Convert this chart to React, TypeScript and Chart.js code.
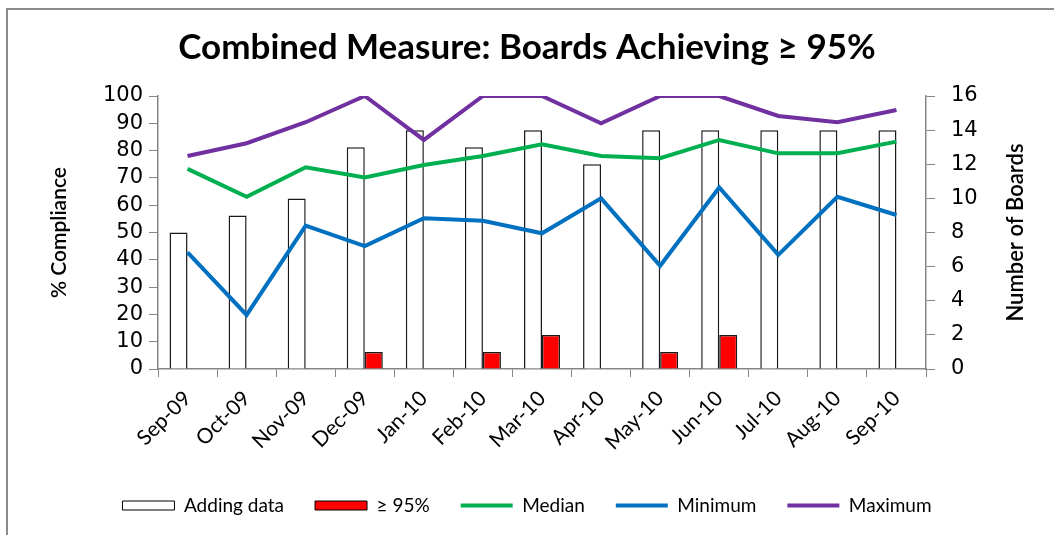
import React, { useEffect, useRef } from "react";
import { Chart, registerables } from "chart.js";

Chart.register(...registerables);

const months = ["Sep-09", "Oct-09", "Nov-09", "Dec-09", "Jan-10", "Feb-10", "Mar-10", "Apr-10", "May-10", "Jun-10", "Jul-10", "Aug-10", "Sep-10"];
const addingData = [8, 9, 10, 13, 14, 13, 14, 12, 14, 14, 14, 14, 14];
const achieving95 = [null, null, null, 1, null, 1, 2, null, 1, 2, null, null, null];
const median = [73.3, 63.1, 73.9, 70.2, 74.7, 78, 82.3, 78, 77.2, 83.9, 79, 79, 83.3];
const minimum = [42.7, 19.8, 52.5, 45, 55.2, 54.3, 49.7, 62.5, 37.8, 66.5, 41.8, 63.1, 56.4];
const maximum = [78, 82.7, 90.4, 100, 83.9, 100, 100, 90, 100, 100, 92.7, 90.4, 94.9];
const leftTicks = [0, 10, 20, 30, 40, 50, 60, 70, 80, 90, 100];
const rightTicks = [0, 2, 4, 6, 8, 10, 12, 14, 16];

const TITLE = "Combined Measure: Boards Achieving \u2265 95%";
const GREY = "#868686";

export default function App() {
  const ref = useRef<HTMLCanvasElement | null>(null);

  useEffect(() => {
    if (!ref.current) return;
    const frame = {
      id: "frame",
      beforeDraw(chart: any) {
        const ctx = chart.ctx;
        ctx.save();
        ctx.strokeStyle = "#8c8c8c";
        ctx.lineWidth = 2;
        ctx.beginPath();
        ctx.moveTo(7, 535);
        ctx.lineTo(7, 9);
        ctx.lineTo(1054, 9);
        ctx.stroke();
        ctx.restore();
      },
      afterDraw(chart: any) {
        const ctx = chart.ctx;
        const a = chart.chartArea;
        ctx.save();
        ctx.translate(1016, (a.top + a.bottom) / 2);
        ctx.rotate(-Math.PI / 2);
        ctx.font = "600 22px Lato";
        ctx.fillStyle = "#000";
        ctx.textAlign = "center";
        ctx.textBaseline = "middle";
        ctx.fillText("Number of Boards", 0, 0);
        ctx.restore();
      },
    };

    const chart = new Chart(ref.current, {
      type: "bar",
      data: {
        labels: months,
        datasets: [
          {
            type: "bar",
            label: "Adding data",
            data: addingData,
            yAxisID: "y1",
            backgroundColor: "#ffffff",
            borderColor: "#1a1a1a",
            borderWidth: 1.5,
            categoryPercentage: 0.61,
            barPercentage: 1.0,
            order: 2,
          },
          {
            type: "bar",
            label: "\u2265 95%",
            data: achieving95,
            yAxisID: "y1",
            backgroundColor: "#ff0000",
            borderColor: "#1a1a1a",
            borderWidth: 1.5,
            categoryPercentage: 0.61,
            barPercentage: 1.0,
            order: 2,
          },
          {
            type: "line",
            label: "Median",
            data: median,
            yAxisID: "y",
            borderColor: "#00b050",
            backgroundColor: "#00b050",
            borderWidth: 4,
            pointRadius: 0,
            tension: 0,
            order: 1,
          },
          {
            type: "line",
            label: "Minimum",
            data: minimum,
            yAxisID: "y",
            borderColor: "#0070c0",
            backgroundColor: "#0070c0",
            borderWidth: 4,
            pointRadius: 0,
            tension: 0,
            order: 1,
          },
          {
            type: "line",
            label: "Maximum",
            data: maximum,
            yAxisID: "y",
            borderColor: "#7030a0",
            backgroundColor: "#7030a0",
            borderWidth: 4,
            pointRadius: 0,
            tension: 0,
            order: 0,
          },
        ] as any,
      },
      options: {
        responsive: false,
        animation: false,
        layout: { padding: { left: 0, right: 0, top: 0, bottom: 10 } },
        plugins: {
          tooltip: { enabled: false },
          title: {
            display: true,
            text: TITLE,
            color: "#000",
            font: { family: "Lato", size: 35, weight: "bold" },
            padding: { top: 27, bottom: 27 },
          },
          legend: {
            position: "bottom",
            labels: {
              usePointStyle: true,
              pointStyleWidth: 52,
              boxHeight: 9,
              padding: 31,
              color: "#000",
              font: { family: "Lato", size: 19 },
              generateLabels: (chart: any) =>
                chart.data.datasets.map((ds: any, i: number) => ({
                  text: ds.label,
                  datasetIndex: i,
                  fillStyle: ds.type === "bar" ? ds.backgroundColor : ds.borderColor,
                  strokeStyle: ds.type === "bar" ? "#000" : ds.borderColor,
                  lineWidth: ds.type === "bar" ? 1 : 4,
                  pointStyle: ds.type === "bar" ? "rect" : "line",
                  hidden: false,
                  fontColor: "#000",
                })),
            },
          },
        },
        scales: {
          x: {
            offset: true,
            grid: { display: true, drawOnChartArea: false, drawTicks: true, tickLength: 8, color: GREY, offset: true },
            border: { display: true, color: GREY, width: 1.5 },
            ticks: { color: "#000", font: { family: "Lato", size: 21 }, minRotation: 45, maxRotation: 45, padding: 9, autoSkip: false },
            afterFit: (s: any) => {
              s.height = 96;
            },
          },
          y: {
            position: "left",
            min: 0,
            max: 100,
            afterBuildTicks: (s: any) => {
              s.ticks = leftTicks.map((v) => ({ value: v }));
            },
            grid: { display: true, drawOnChartArea: false, drawTicks: true, tickLength: 9, color: GREY },
            border: { display: true, color: GREY, width: 1.5 },
            ticks: { color: "#000", font: { family: "DejaVu Sans", size: 21 }, padding: 6, autoSkip: false },
            title: {
              display: true,
              text: "% Compliance",
              color: "#000",
              font: { family: "Lato", size: 21, weight: "600" },
              padding: { top: 47, bottom: 0 },
            },
            afterFit: (s: any) => {
              s.width = 158;
            },
          },
          y1: {
            position: "right",
            min: 0,
            max: 16,
            afterBuildTicks: (s: any) => {
              s.ticks = rightTicks.map((v) => ({ value: v }));
            },
            grid: { display: true, drawOnChartArea: false, drawTicks: true, tickLength: 9, color: GREY },
            border: { display: true, color: GREY, width: 1.5 },
            ticks: { color: "#000", font: { family: "DejaVu Sans", size: 21 }, padding: 16, autoSkip: false },
            afterFit: (s: any) => {
              s.width = 128;
            },
          },
        },
      } as any,
      plugins: [frame],
    });
    return () => chart.destroy();
  }, []);

  return (
    <div style={{ position: "absolute", left: 0, top: 0, width: 1054, height: 535, background: "#fff" }}>
      <canvas ref={ref} width={1054} height={535} style={{ display: "block", width: 1054, height: 535 }} />
    </div>
  );
}
